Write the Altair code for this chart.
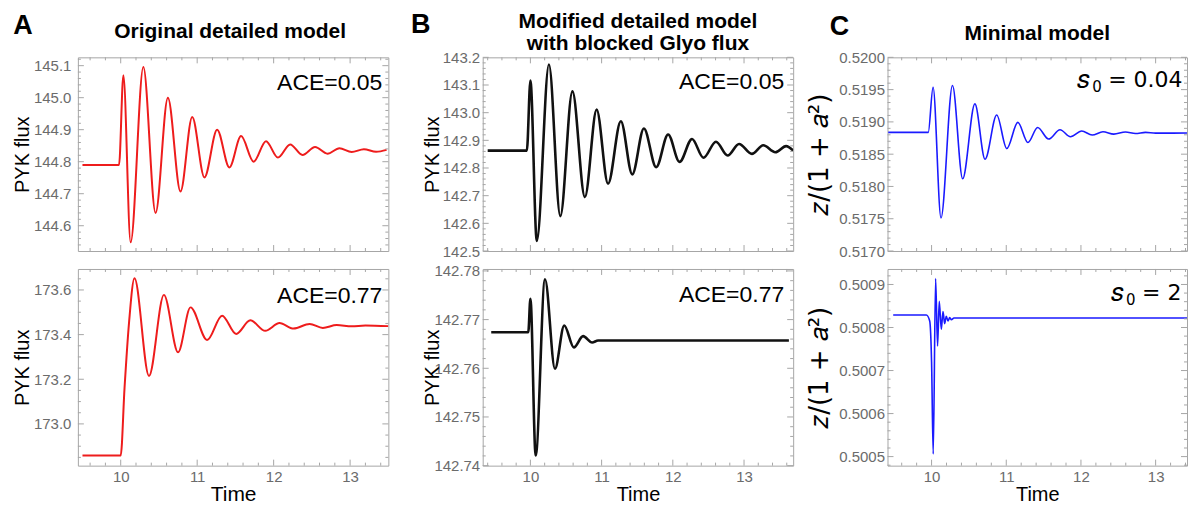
import altair as alt
import numpy as np
import pandas as pd

FONT = "Liberation Sans"
MATH = "DejaVu Sans"
FRAME = "#a6a6a6"
LABEL = "#6b6b6b"

# ---------------- data ----------------
# Panel A (Original detailed model), ACE=0.05
A1_T = [9.5, 9.978, 10.035, 10.13, 10.296, 10.456, 10.617, 10.782, 10.935, 11.095, 11.261,
        11.421, 11.574, 11.738, 11.90, 12.056, 12.216, 12.377, 12.542, 12.703, 12.86, 13.02,
        13.18, 13.34, 13.477]
A1_V = [144.79, 144.79, 145.07, 144.548, 145.096, 144.64, 145.0, 144.707, 144.94, 144.751,
        144.90, 144.782, 144.88, 144.80, 144.864, 144.813, 144.854, 144.821, 144.846, 144.825,
        144.842, 144.83, 144.839, 144.831, 144.837]
# Panel A, ACE=0.77
A2_T = [9.5, 10.0, 10.05, 10.11, 10.18, 10.37, 10.565, 10.75, 10.913, 11.13, 11.326, 11.51,
        11.695, 11.89, 12.077, 12.26, 12.47, 12.643, 12.825, 13.02, 13.2, 13.5]
A2_V = [172.859, 172.859, 173.16, 173.458, 173.652, 173.215, 173.578, 173.321, 173.522,
        173.376, 173.485, 173.403, 173.464, 173.417, 173.452, 173.427, 173.448, 173.43,
        173.443, 173.437, 173.441, 173.438]
# Panel B (blocked Glyo flux), ACE=0.05
B1_T = [9.4, 9.95, 10.0, 10.09, 10.26, 10.42, 10.59, 10.765, 10.93, 11.09, 11.27, 11.43,
        11.594, 11.766, 11.934, 12.094, 12.27, 12.43, 12.606, 12.77, 12.93, 13.11, 13.27,
        13.44, 13.59, 13.69]
B1_V = [142.863, 142.863, 143.116, 142.536, 143.174, 142.626, 143.077, 142.695, 143.011,
        142.743, 142.969, 142.777, 142.943, 142.803, 142.921, 142.822, 142.905, 142.837,
        142.895, 142.845, 142.887, 142.851, 142.882, 142.857, 142.879, 142.863]
# Panel B, ACE=0.77
B2_T = [9.45, 9.97, 10.0, 10.074, 10.205, 10.345, 10.475, 10.61, 10.74, 10.867, 10.95, 13.63]
B2_V = [142.7674, 142.7674, 142.7743, 142.7421, 142.7783, 142.7599, 142.7688, 142.7643,
        142.7666, 142.7653, 142.7657, 142.7657]
# Panel C (Minimal model), s0=0.04
C1_T = [9.42, 9.955, 10.02, 10.126, 10.28, 10.416, 10.58, 10.716, 10.872, 11.007, 11.155,
        11.29, 11.42, 11.567, 11.72, 11.86, 12.01, 12.15, 12.295, 12.44, 12.596, 12.73,
        12.864, 13.0, 13.53]
C1_V = [0.518837, 0.518837, 0.519537, 0.517513, 0.519564, 0.518120, 0.519279, 0.518422,
        0.519107, 0.518587, 0.518992, 0.518681, 0.518914, 0.518734, 0.518879, 0.518769,
        0.518858, 0.518796, 0.518847, 0.518811, 0.518843, 0.518821, 0.518837, 0.518826,
        0.518828]
# Panel C, s0=2
C2_T = [9.486, 9.93, 9.975, 10.0, 10.022, 10.054, 10.08, 10.103, 10.13, 10.153, 10.175,
        10.197, 10.22, 10.243, 10.265, 10.3, 13.53]
C2_V = [0.500829, 0.500829, 0.500815, 0.50072, 0.500506, 0.500914, 0.500757, 0.500861,
        0.500796, 0.500837, 0.500809, 0.500826, 0.500815, 0.500823, 0.500818, 0.500822,
        0.500822]

X_LABELS = [10, 11, 12, 13]
A1_YLABELS = [144.6, 144.7, 144.8, 144.9, 145.0, 145.1]
A2_YLABELS = [173.0, 173.2, 173.4, 173.6]
B1_YLABELS = [142.5, 142.6, 142.7, 142.8, 142.9, 143.0, 143.1, 143.2]
B2_YLABELS = [142.74, 142.75, 142.76, 142.77, 142.78]
C1_YLABELS = [0.517, 0.5175, 0.518, 0.5185, 0.519, 0.5195, 0.52]
C2_YLABELS = [0.5005, 0.5006, 0.5007, 0.5008, 0.5009]

TITLES = {"A": ["Original detailed model"],
          "B": ["Modified detailed model", "with blocked Glyo flux"],
          "C": ["Minimal model"]}
ANNOT = {"A1": "ACE=0.05", "A2": "ACE=0.77", "B1": "ACE=0.05", "B2": "ACE=0.77",
         "C1": "= 0.04", "C2": "= 2"}
C_YTITLE = "𝑧/(1 + 𝑎²)"

WA, WB, WC = 311, 311, 300
H1, H2 = 194, 197


def minor_ticks(lo, hi, step, major_step):
    k0 = int(np.ceil(lo / step - 1e-9))
    k1 = int(np.floor(hi / step + 1e-9))
    out = []
    for k in range(k0, k1 + 1):
        v = round(k * step, 9)
        r = v / major_step
        if abs(r - round(r)) > 1e-6:
            out.append(v)
    return out


def text_layer(txt, x, y, size, weight="normal", align="center", font=FONT, color="black"):
    return alt.Chart(pd.DataFrame({"s": [txt]})).mark_text(
        font=font, fontSize=size, fontWeight=weight, align=align, baseline="middle",
        color=color).encode(text="s:N", x=alt.value(x), y=alt.value(y))


def s0_label(rest, x, y):
    return [text_layer("𝑠", x, y, 26, align="left", font=MATH),
            text_layer("0", x + 15, y + 7, 15, align="left", font=MATH),
            text_layer(rest, x + 31, y, 22, align="left", font=MATH)]


def panel(T, V, color, sw, W, H, xdom, ydom, ylabels, yfmt, ystep, ymajor, ytitle,
          ytitle_font, ytitle_size, ytitle_x, label_pad, show_x, xtitle_size, extras):
    xs = alt.Scale(domain=xdom, nice=False, zero=False)
    ys = alt.Scale(domain=ydom, nice=False, zero=False)
    if show_x:
        xaxis = alt.Axis(values=X_LABELS, format="d", labelFont=FONT, labelFontSize=15,
                         labelColor=LABEL, labelPadding=4, ticks=False, tickSize=0,
                         domain=False, grid=False, labelFlush=False, title="Time",
                         titleFont=FONT, titleFontSize=xtitle_size, titleFontWeight="normal",
                         titleColor="black", titleY=29, titleBaseline="middle")
    else:
        xaxis = None
    yaxis = alt.Axis(values=ylabels, format=yfmt, labelFont=FONT, labelFontSize=15,
                     labelColor=LABEL, labelPadding=label_pad, ticks=False, tickSize=0,
                     domain=False, grid=False, labelFlush=False, labelOverlap=False,
                     title=ytitle, titleFont=ytitle_font, titleFontSize=ytitle_size,
                     titleFontWeight="normal", titleColor="black", titleX=ytitle_x,
                     titleY=H / 2, titleAngle=270, titleBaseline="middle", titleAlign="center")
    df = pd.DataFrame({"t": T, "v": V})
    line = alt.Chart(df).mark_line(color=color, strokeWidth=sw, interpolate="monotone",
                                   clip=True).encode(
        x=alt.X("t:Q", scale=xs, axis=xaxis),
        y=alt.Y("v:Q", scale=ys, axis=yaxis))
    layers = [line]
    xmaj = [v for v in X_LABELS if xdom[0] <= v <= xdom[1]]
    xminor = minor_ticks(xdom[0], xdom[1], 0.2, 1.0)
    yin = [v for v in ylabels if ydom[0] <= v <= ydom[1]]
    yminor = minor_ticks(ydom[0], ydom[1], ystep, ymajor)
    for vals, L in [(xmaj, 6), (xminor, 3)]:
        base = alt.Chart(pd.DataFrame({"t": vals})).mark_rule(color=FRAME, strokeWidth=1)
        xe = alt.X("t:Q", scale=xs, axis=xaxis)
        layers.append(base.encode(x=xe, y=alt.value(H), y2=alt.value(H - L)))
        layers.append(base.encode(x=xe, y=alt.value(0), y2=alt.value(L)))
    for vals, L in [(yin, 6), (yminor, 3)]:
        base = alt.Chart(pd.DataFrame({"v": vals})).mark_rule(color=FRAME, strokeWidth=1)
        ye = alt.Y("v:Q", scale=ys, axis=yaxis)
        layers.append(base.encode(y=ye, x=alt.value(0), x2=alt.value(L)))
        layers.append(base.encode(y=ye, x=alt.value(W), x2=alt.value(W - L)))
    layers.extend(extras)
    return alt.layer(*layers).properties(width=W, height=H)


pA1 = panel(A1_T, A1_V, "#ee1c1c", 2.0, WA, H1, [9.44, 13.5], [144.521, 145.126], A1_YLABELS,
            ".1f", 0.02, 0.1, "PYK flux", FONT, 20, -55, 7, False, 21,
            [text_layer(ANNOT["A1"], WA - 6, 26, 23, align="right"),
             text_layer("A", -55, -31.5, 27, "bold"),
             text_layer(TITLES["A"][0], WA / 2 - 3, -25.5, 21, "bold")])
pB1 = panel(B1_T, B1_V, "#111111", 2.6, WB, H1, [9.33, 13.69], [142.5, 143.2], B1_YLABELS,
            ".1f", 0.02, 0.1, "PYK flux", FONT, 20, -50, 3, False, 20,
            [text_layer(ANNOT["B1"], WB - 9, 25, 23, align="right"),
             text_layer("B", -62, -32.5, 27, "bold"),
             text_layer(TITLES["B"][0], WB / 2, -35.5, 21, "bold"),
             text_layer(TITLES["B"][1], WB / 2, -13.5, 21, "bold")])
pC1 = panel(C1_T, C1_V, "#1a1aff", 1.6, WC, H1, [9.41, 13.42], [0.517, 0.52], C1_YLABELS,
            ".4f", 0.0001, 0.0005, C_YTITLE, MATH, 26, -68, 3, False, 20,
            s0_label(ANNOT["C1"], 190, 23) +
            [text_layer("C", -48, -30.5, 27, "bold"),
             text_layer(TITLES["C"][0], WC / 2, -23.5, 21, "bold")])
pA2 = panel(A2_T, A2_V, "#ee1c1c", 2.0, WA, H2, [9.44, 13.5], [172.813, 173.694], A2_YLABELS,
            ".1f", 0.05, 0.2, "PYK flux", FONT, 20, -55, 7, True, 21,
            [text_layer(ANNOT["A2"], WA - 6, 27, 23, align="right")])
pB2 = panel(B2_T, B2_V, "#111111", 2.6, WB, H2, [9.33, 13.69], [142.74, 142.7804], B2_YLABELS,
            ".2f", 0.002, 0.01, "PYK flux", FONT, 20, -50, 3, True, 20,
            [text_layer(ANNOT["B2"], WB - 9, 26, 23, align="right")])
pC2 = panel(C2_T, C2_V, "#1a1aff", 1.6, WC, H2, [9.41, 13.42], [0.500479, 0.500936],
            C2_YLABELS, ".4f", 0.00002, 0.0001, C_YTITLE, MATH, 26, -68, 3, True, 20,
            s0_label(ANNOT["C2"], 224, 24))

chart = alt.concat(pA1, pB1, pC1, pA2, pB2, pC2, columns=3, bounds="flush", align="each",
                   spacing={"row": 18, "column": 94.5}).properties(
    padding={"left": 4, "top": 2, "right": 0, "bottom": 0},
    background="white").configure_view(stroke=FRAME, strokeWidth=1)

chart.save("out.html", embed_options={"renderer": "svg", "actions": False})
